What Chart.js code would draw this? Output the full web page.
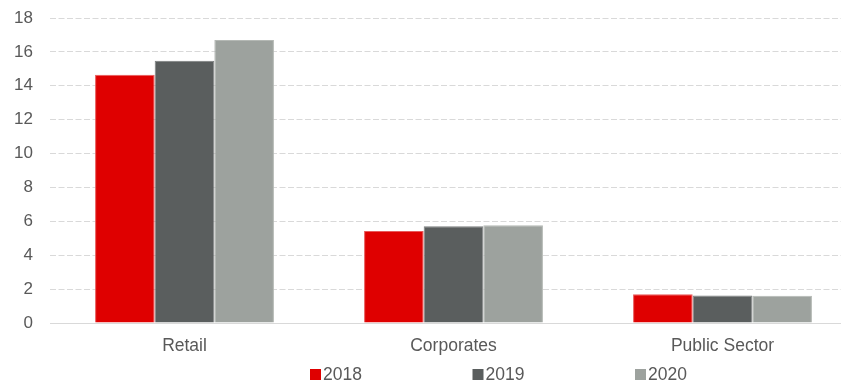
<!DOCTYPE html>
<html>
<head>
<meta charset="utf-8">
<script src="https://cdn.jsdelivr.net/npm/chart.js@4/dist/chart.umd.min.js"></script>
<style>
  html, body { margin: 0; padding: 0; background: #ffffff; overflow: hidden; }
  /* plot area runs past the right edge of the window */
  #wrap { width: 857px; height: 383px; position: relative; }
</style>
</head>
<body>
<div id="wrap"><canvas id="mainChart"></canvas></div>
<script>
// ── Data ──────────────────────────────────────────────────────────────────
const categories = ['Retail', 'Corporates', 'Public Sector'];
const years      = ['2018', '2019', '2020'];
const values2018 = [14.65, 5.43, 1.69];
const values2019 = [15.47, 5.71, 1.63];
const values2020 = [16.70, 5.77, 1.61];
const yTicks     = [0, 2, 4, 6, 8, 10, 12, 14, 16, 18];

const FONT   = '"Liberation Sans", Arial, sans-serif';
const colors = ['#df0000', '#5a5e5e', '#9da29e'];
const edges  = ['#e85a5a', '#7a7e7e', '#b4b8b4'];

// ── Legend drawn under the axis labels (wide spacing between items) ─────────
const bottomLegend = {
    id: 'bottomLegend',
    afterDraw(chart) {
        const c = chart.ctx;
        const y = 374;
        const startX = 310, pitch = 162.5;
        c.save();
        c.font = '17.5px ' + FONT;
        c.textBaseline = 'middle';
        chart.data.datasets.forEach((ds, i) => {
            const x = startX + i * pitch;
            c.fillStyle = ds.backgroundColor;
            c.fillRect(x, y - 5, 11, 11);
            c.fillStyle = '#595959';
            c.fillText(ds.label, x + 13, y + 1);
        });
        c.restore();
    }
};

const ctx = document.getElementById('mainChart').getContext('2d');
new Chart(ctx, {
    type: 'bar',
    data: {
        labels: categories,
        datasets: [values2018, values2019, values2020].map((vals, i) => ({
            label: years[i],
            data: vals,
            backgroundColor: colors[i],
            borderColor: edges[i],
            borderWidth: 1,
            categoryPercentage: 0.665,
            barPercentage: 1.0
        }))
    },
    options: {
        responsive: true,
        maintainAspectRatio: false,
        animation: false,
        layout: { padding: { top: 18, right: 0, bottom: 12, left: 0 } },
        plugins: {
            legend: { display: false },
            tooltip: { enabled: false }
        },
        scales: {
            y: {
                min: 0,
                max: 18,
                afterBuildTicks: s => { s.ticks = yTicks.map(v => ({ value: v })); },
                // fixed axis width; label padding should not push the plot down
                afterFit: s => { s.width = 50; s.paddingTop = 0; s.paddingBottom = 0; },
                border: { display: false, dash: [6, 2.5] },
                grid: {
                    color: ctx => ctx.tick.value === 0 ? 'rgba(0,0,0,0)' : '#d9d9d9',
                    lineWidth: 1,
                    drawTicks: false
                },
                ticks: {
                    color: '#595959',
                    padding: 17,
                    font: { family: FONT, size: 17 }
                }
            },
            x: {
                afterFit: s => { s.height = 48; },
                border: { display: true, color: '#d9d9d9', width: 1 },
                grid: { display: false, drawTicks: false },
                ticks: {
                    color: '#595959',
                    padding: 13,
                    font: { family: FONT, size: 17.5 }
                }
            }
        }
    },
    plugins: [bottomLegend]
});
</script>
</body>
</html>
